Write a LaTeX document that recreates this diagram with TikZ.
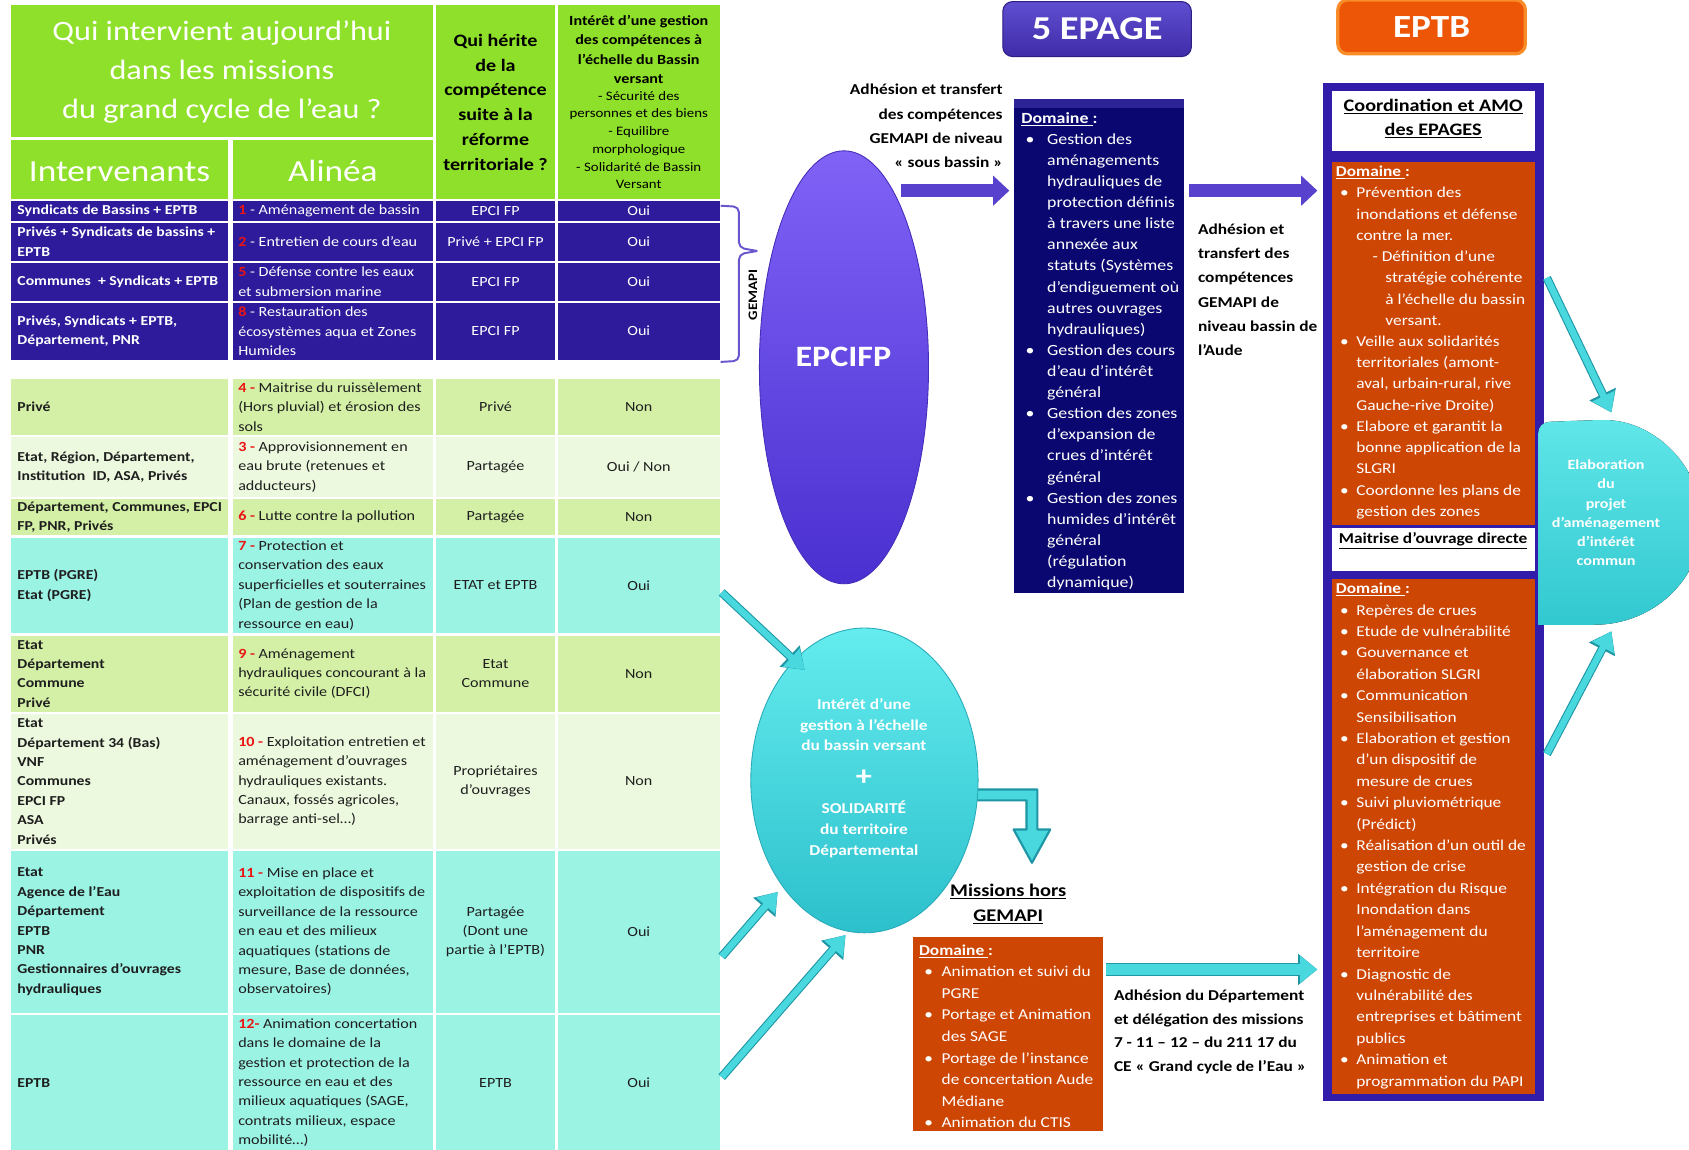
\documentclass[tikz,border=0pt]{standalone}
\usepackage{fontspec}
\setmainfont{Carlito}[FakeStretch=1.15]
\usetikzlibrary{arrows.meta,shapes.geometric}
\definecolor{hdrgreen}{RGB}{143,224,42}
\definecolor{gblue}{RGB}{45,27,155}
\definecolor{lgreen}{RGB}{211,240,166}
\definecolor{vlgreen}{RGB}{236,249,222}
\definecolor{lcyan}{RGB}{155,243,228}
\definecolor{navy}{RGB}{10,8,112}
\definecolor{navytop}{RGB}{45,35,150}
\definecolor{orgbox}{RGB}{206,70,4}
\definecolor{frameblue}{RGB}{50,28,170}
\definecolor{cyanA}{RGB}{72,216,222}
\definecolor{cyanD}{RGB}{30,150,165}
\definecolor{purpA}{RGB}{88,66,205}
\definecolor{numred}{RGB}{235,20,20}
\definecolor{brk}{RGB}{105,85,205}
\definecolor{txtdark}{RGB}{30,30,30}
\newcommand\nr[1]{\textcolor{numred}{\textbf{#1}}}
\newcommand\bulN{\makebox[24pt][l]{\hspace*{4pt}\textbullet}}
\newcommand\indN{\hspace*{24pt}}
\newcommand\bulE{\makebox[19pt][l]{\hspace*{4pt}\textbullet}}
\newcommand\indE{\hspace*{19pt}}
\newcommand\bulM{\makebox[21pt][l]{\hspace*{5pt}\textbullet}}
\newcommand\indM{\hspace*{21pt}}
\newcommand\dom{\underline{\textbf{Domaine }}\textbf{:}}
\tikzset{
  c1/.style={anchor=west, align=left, inner sep=0pt, font=\bfseries\fontsize{12.7}{18}\selectfont},
  c2/.style={anchor=west, align=left, inner sep=0pt, font=\fontsize{13}{18}\selectfont},
  c3/.style={anchor=center, align=center, inner sep=0pt, font=\fontsize{13}{18}\selectfont},
  parrow/.style={line width=12pt, draw=purpA, -{Triangle[length=15pt,width=27pt]}},
  carrow/.style={line width=6pt, draw=cyanA, -{Triangle[length=17pt,width=22pt]},
     preaction={draw=cyanD, line width=8pt, -{Triangle[length=19pt,width=26pt]}}},
  boxtxt/.style={anchor=west, align=left, inner sep=0pt, text=white},
}
\newcommand\trow[9]{%
  \fill[#4] (10,#2) rectangle (212,#3);
  \fill[#4] (216,#2) rectangle (402,#3);
  \fill[#4] (405,#2) rectangle (515,#3);
  \fill[#4] (518,#2) rectangle (668,#3);
  \node[c1,text=#5] (#1a) at (16,{(#2+#3)/2}) {#6};
  \node[c2,text=#5] (#1b) at (221,{(#2+#3)/2}) {#7};
  \node[c3,text=#5] (#1c) at (460,{(#2+#3)/2}) {#8};
  \node[c3,text=#5] (#1d) at (593,{(#2+#3)/2}) {#9};
}
\begin{document}
\begin{tikzpicture}[x=1pt,y=-1pt]
\useasboundingbox (0,0) rectangle (1568,1067);
\fill[white] (0,0) rectangle (1568,1067);
\begin{scope}
\clip (0,0) rectangle (1568,1067);
% ---------------- header
\fill[hdrgreen] (10,5) rectangle (402,127);
\fill[hdrgreen] (10,130) rectangle (212,185);
\fill[hdrgreen] (216,130) rectangle (402,185);
\fill[hdrgreen] (405,5) rectangle (515,185);
\fill[hdrgreen] (518,5) rectangle (668,185);
\node[text=white, align=center, font=\fontsize{26}{36}\selectfont] (hq) at (206,67) {Qui intervient aujourd’hui\\dans les missions\\du grand cycle de l’eau ?};
\node[text=white, font=\fontsize{28.5}{36}\selectfont] (hint) at (111,159) {Intervenants};
\node[text=white, font=\fontsize{28.5}{36}\selectfont] (hal) at (309,159) {Alinéa};
\node[align=center, font=\bfseries\fontsize{16.2}{23}\selectfont] (hher) at (460,95) {Qui hérite\\de la\\compétence\\suite à la\\réforme\\territoriale ?};
\node[align=center, font=\bfseries\fontsize{13}{18}\selectfont] (hint1) at (593,46) {Intérêt d’une gestion\\des compétences à\\l’échelle du Bassin\\versant};
\node[align=center, font=\fontsize{12}{16.5}\selectfont] (hint2) at (593,130) {- Sécurité des\\personnes et des biens\\- Equilibre\\morphologique\\- Solidarité de Bassin\\Versant};
% ---------------- GEMAPI rows
\trow{ra}{187}{205}{gblue}{white}{Syndicats de Bassins + EPTB}{\nr{1} - Aménagement de bassin}{EPCI FP}{Oui}
\trow{rb}{207}{242}{gblue}{white}{Privés + Syndicats de bassins +\\EPTB}{\nr{2} - Entretien de cours d’eau}{Privé + EPCI FP}{Oui}
\trow{rc}{244}{279}{gblue}{white}{Communes\ \ + Syndicats + EPTB}{\nr{5} - Défense contre les eaux\\et submersion marine}{EPCI FP}{Oui}
\trow{rd}{281}{334}{gblue}{white}{Privés, Syndicats + EPTB,\\Département, PNR}{\nr{8} - Restauration des\\écosystèmes aqua et Zones\\Humides}{EPCI FP}{Oui}
% ---------------- other rows
\trow{re}{352}{404}{lgreen}{txtdark}{Privé}{\nr{4 -} Maitrise du ruissèlement\\(Hors pluvial) et érosion des\\sols}{Privé}{Non}
\trow{rf}{406}{461}{vlgreen}{txtdark}{Etat, Région, Département,\\Institution\ \ ID, ASA, Privés}{\nr{3 -} Approvisionnement en\\eau brute (retenues et\\adducteurs)}{Partagée}{Oui / Non}
\trow{rg}{463}{497}{lgreen}{txtdark}{Département, Communes, EPCI\\FP, PNR, Privés}{\nr{6 -} Lutte contre la pollution}{Partagée}{Non}
\trow{rh}{499}{588}{lcyan}{txtdark}{EPTB (PGRE)\\Etat (PGRE)}{\nr{7 -} Protection et\\conservation des eaux\\superficielles et souterraines\\(Plan de gestion de la\\ressource en eau)}{ETAT et EPTB}{Oui}
\trow{ri}{590}{661}{lgreen}{txtdark}{Etat\\Département\\Commune\\Privé}{\nr{9 -} Aménagement\\hydrauliques concourant à la\\sécurité civile (DFCI)}{Etat\\Commune}{Non}
\trow{rj}{663}{788}{vlgreen}{txtdark}{Etat\\Département 34 (Bas)\\VNF\\Communes\\EPCI FP\\ASA\\Privés}{\nr{10 -} Exploitation entretien et\\aménagement d’ouvrages\\hydrauliques existants.\\Canaux, fossés agricoles,\\barrage anti-sel…)}{Propriétaires\\d’ouvrages}{Non}
\trow{rk}{790}{940}{lcyan}{txtdark}{Etat\\Agence de l’Eau\\Département\\EPTB\\PNR\\Gestionnaires d’ouvrages\\hydrauliques}{\nr{11 -} Mise en place et\\exploitation de dispositifs de\\surveillance de la ressource\\en eau et des milieux\\aquatiques (stations de\\mesure, Base de données,\\observatoires)}{Partagée\\(Dont une\\partie à l’EPTB)}{Oui}
\trow{rl}{942}{1068}{lcyan}{txtdark}{EPTB}{\nr{12-} Animation concertation\\dans le domaine de la\\gestion et protection de la\\ressource en eau et des\\milieux aquatiques (SAGE,\\contrats milieux, espace\\mobilité…)}{EPTB}{Oui}
% ---------------- bracket
\draw[brk, line width=1.8pt, rounded corners=5pt] (669,191) -- (686,192) -- (686,230) -- (703,233);
\draw[brk, line width=1.8pt, rounded corners=5pt] (703,233) -- (686,236) -- (686,335) -- (669,336);
\node[rotate=90, font=\bfseries\fontsize{12}{14}\selectfont] (gem) at (699,274) {GEMAPI};
% ---------------- EPCIFP
\node[ellipse, minimum width=157pt, minimum height=402pt, inner sep=0pt, top color={rgb,255:red,128;green,98;blue,246}, bottom color={rgb,255:red,74;green,48;blue,208}, draw={rgb,255:red,70;green,45;blue,185}, line width=0.8pt] (epci) at (783.5,341) {};
\node[text=white, font=\bfseries\fontsize{27.5}{30}\selectfont] (epcilab) at (783,331) {EPCIFP};
% ---------------- top labels
\node[rounded corners=9pt, minimum width=175pt, minimum height=51pt, inner sep=0pt, top color={rgb,255:red,95;green,78;blue,208}, bottom color={rgb,255:red,62;green,44;blue,168}, draw={rgb,255:red,45;green,30;blue,130}, line width=1pt, text=white, font=\bfseries\fontsize{31}{34}\selectfont] (epage) at (1018.5,27) {5 EPAGE};
\node[rounded corners=9pt, minimum width=174pt, minimum height=50pt, inner sep=0pt, fill={rgb,255:red,236;green,86;blue,6}, draw={rgb,255:red,248;green,140;blue,40}, line width=3pt, text=white, font=\bfseries\fontsize{30}{32}\selectfont] (eptb) at (1329,25) {EPTB};
% ---------------- navy box
\node[fill=navy, minimum width=158pt, minimum height=458pt, anchor=north west, inner sep=0pt] (navy) at (941,92) {};
\fill[navytop] (941,92) rectangle (1099,100);
\node[boxtxt, font=\fontsize{14.4}{19.6}\selectfont] (navytxt) at (948,326) {\dom\\
\bulN Gestion des\\ \indN aménagements\\ \indN hydrauliques de\\ \indN protection définis\\ \indN à travers une liste\\ \indN annexée aux\\ \indN statuts (Systèmes\\ \indN d’endiguement où\\ \indN autres ouvrages\\ \indN hydrauliques)\\
\bulN Gestion des cours\\ \indN d’eau d’intérêt\\ \indN général\\
\bulN Gestion des zones\\ \indN d’expansion de\\ \indN crues d’intérêt\\ \indN général\\
\bulN Gestion des zones\\ \indN humides d’intérêt\\ \indN général\\ \indN (régulation\\ \indN dynamique)};
% ---------------- texts near arrows
\node[anchor=east, align=right, inner sep=0pt, font=\bfseries\fontsize{14}{22.6}\selectfont] (adh1) at (931,117) {Adhésion et transfert\\des compétences\\GEMAPI de niveau\\« sous bassin »};
\node[anchor=west, align=left, inner sep=0pt, font=\bfseries\fontsize{14}{22.6}\selectfont] (adh2) at (1112,269) {Adhésion et\\transfert des\\compétences\\GEMAPI de\\niveau bassin de\\l’Aude};
% ---------------- EPTB frame
\node[fill=frameblue, minimum width=205pt, minimum height=945pt, anchor=north west, inner sep=0pt] (frame) at (1228,77) {};
\node[fill=white, minimum width=189pt, minimum height=56pt, anchor=north west, inner sep=0pt] (coordbox) at (1236,84) {};
\node[align=center, font=\bfseries\fontsize{16.3}{23}\selectfont] (coordtxt) at (1330.5,110) {\underline{Coordination et AMO}\\\underline{des EPAGES}};
\node[fill=orgbox, minimum width=189pt, minimum height=337pt, anchor=north west, inner sep=0pt] (org1) at (1236,150) {};
\node[fill=white, minimum width=189pt, minimum height=40pt, anchor=north west, inner sep=0pt] (moabox) at (1236,490) {};
\node[font=\bfseries\fontsize{14}{18}\selectfont] (moatxt) at (1330.5,502) {\underline{Maitrise d’ouvrage directe}};
\node[fill=orgbox, minimum width=189pt, minimum height=478pt, anchor=north west, inner sep=0pt] (org2) at (1236,537) {};
\begin{scope}
\clip (1236,150) rectangle (1425,487);
\node[boxtxt, font=\fontsize{14}{19.7}\selectfont] (org1txt) at (1240,318) {\dom\\
\bulE Prévention des\\ \indE inondations et défense\\ \indE contre la mer.\\
\hspace*{34pt}- Définition d’une\\ \hspace*{46pt}stratégie cohérente\\ \hspace*{46pt}à l’échelle du bassin\\ \hspace*{46pt}versant.\\
\bulE Veille aux solidarités\\ \indE territoriales (amont-\\ \indE aval, urbain-rural, rive\\ \indE Gauche-rive Droite)\\
\bulE Elabore et garantit la\\ \indE bonne application de la\\ \indE SLGRI\\
\bulE Coordonne les plans de\\ \indE gestion des zones};
\end{scope}
\node[boxtxt, font=\fontsize{14}{19.87}\selectfont] (org2txt) at (1240,776) {\dom\\
\bulE Repères de crues\\
\bulE Etude de vulnérabilité\\
\bulE Gouvernance et\\ \indE élaboration SLGRI\\
\bulE Communication\\ \indE Sensibilisation\\
\bulE Elaboration et gestion\\ \indE d’un dispositif de\\ \indE mesure de crues\\
\bulE Suivi pluviométrique\\ \indE (Prédict)\\
\bulE Réalisation d’un outil de\\ \indE gestion de crise\\
\bulE Intégration du Risque\\ \indE Inondation dans\\ \indE l’aménagement du\\ \indE territoire\\
\bulE Diagnostic de\\ \indE vulnérabilité des\\ \indE entreprises et bâtiment\\ \indE publics\\
\bulE Animation et\\ \indE programmation du PAPI};
% ---------------- purple arrows
\coordinate (p1s) at (836,177);
\coordinate (p2s) at (1104,177);
\draw[parrow, shorten >=4pt] (p1s) -- (p1s -| navy.west);
\draw[parrow, shorten >=5pt] (p2s) -- (p2s -| frame.west);
% ---------------- elbow arrow and circle
\fill[cyanA, draw=cyanD, line width=2pt, line join=round] (880,733) -- (963,733) -- (963,770) -- (975,770) -- (958,801) -- (941,770) -- (953,770) -- (953,743) -- (880,743) -- cycle;
\node[ellipse, minimum width=211pt, minimum height=283pt, inner sep=0pt, top color={rgb,255:red,100;green,236;blue,238}, bottom color={rgb,255:red,44;green,192;blue,204}, draw={rgb,255:red,40;green,170;blue,185}, line width=0.8pt] (circ) at (802.5,724.5) {};
\node[text=white, align=center, font=\bfseries\fontsize{14}{19}\selectfont] (circt1) at (802,673) {Intérêt d’une\\gestion à l’échelle\\du bassin versant};
\node[text=white, font=\bfseries\fontsize{26}{26}\selectfont] (circplus) at (802,722) {+};
\node[text=white, align=center, font=\bfseries\fontsize{14}{19.5}\selectfont] (circt2) at (802,770) {SOLIDARITÉ\\du territoire\\Départemental};
% ---------------- missions hors gemapi
\node[align=center, font=\bfseries\fontsize{16.5}{23}\selectfont] (mh) at (936,839) {\underline{Missions hors}\\\underline{GEMAPI}};
\node[fill=orgbox, minimum width=177pt, minimum height=180pt, anchor=north west, inner sep=0pt] (morg) at (847,870) {};
\node[boxtxt, font=\fontsize{14}{20}\selectfont] (morgtxt) at (853,962) {\dom\\
\bulM Animation et suivi du\\ \indM PGRE\\
\bulM Portage et Animation\\ \indM des SAGE\\
\bulM Portage de l’instance\\ \indM de concertation Aude\\ \indM Médiane\\
\bulM Animation du CTIS};
\node[anchor=west, align=left, inner sep=0pt, font=\bfseries\fontsize{14}{22}\selectfont] (adh3) at (1034,958) {Adhésion du Département\\et délégation des missions\\7 - 11 -- 12 -- du 211 17 du\\CE « Grand cycle de l’Eau »};
% ---------------- cyan arrows
\coordinate (t1) at (670,550);
\coordinate (t1e) at (747,622);
\coordinate (t2) at (670,888);
\coordinate (t2e) at (722,828);
\coordinate (t3) at (670,1000);
\coordinate (t3e) at (785,868);
\draw[carrow] (t1) -- (t1e);
\draw[carrow] (t2) -- (t2e);
\draw[carrow] (t3) -- (t3e);
\coordinate (mo) at (1027,900);
\draw[line width=10pt, draw=cyanA, -{Triangle[length=16pt,width=24pt]}, preaction={draw=cyanD, line width=12pt, -{Triangle[length=18pt,width=28pt]}}, shorten >=5pt] (mo) -- (mo -| frame.west);
% ---------------- Elaboration
\fill[top color={rgb,255:red,95;green,230;blue,232}, bottom color={rgb,255:red,50;green,200;blue,208}, rounded corners=10pt] (1428,580) -- (1428,392) -- (1480,390) [sharp corners] arc[start angle=-90, end angle=90, x radius=100, y radius=95] -- cycle;
\node[text=white, align=center, font=\bfseries\fontsize{13}{17.8}\selectfont] (elab) at (1491,476) {Elaboration\\du\\projet\\d’aménagement\\d’intérêt\\commun};
\coordinate (e1) at (1436,258);
\coordinate (e1e) at (1496,383);
\coordinate (e2) at (1436,700);
\coordinate (e2e) at (1496,586);
\draw[carrow] (e1) -- (e1e);
\draw[carrow] (e2) -- (e2e);
\end{scope}
\end{tikzpicture}
\end{document}
